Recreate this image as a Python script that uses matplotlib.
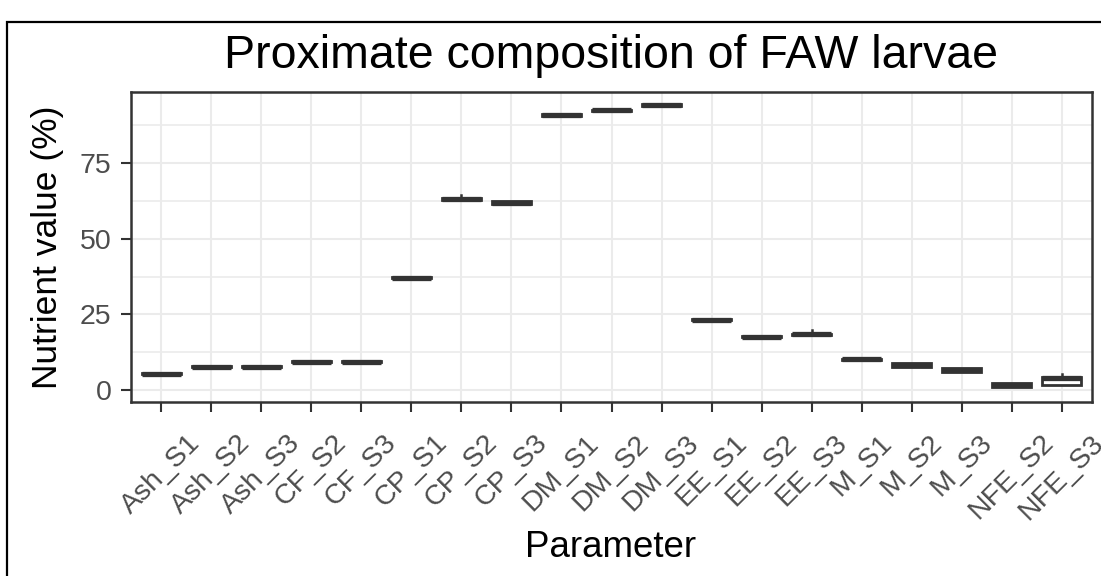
import matplotlib
matplotlib.use("Agg")
from matplotlib import pyplot as plt
from matplotlib.patches import Rectangle

plt.rcParams['font.family'] = ['Liberation Sans', 'DejaVu Sans']

parametry = ["Ash_S1", "Ash_S2", "Ash_S3", "CF_S2", "CF_S3", "CP_S1", "CP_S2", "CP_S3",
             "DM_S1", "DM_S2", "DM_S3", "EE_S1", "EE_S2", "EE_S3", "M_S1", "M_S2",
             "M_S3", "NFE_S2", "NFE_S3"]

# five-number summaries per parameter (%)
whislo = [5.2, 7.6, 7.6, 9.2, 9.2, 36.9, 62.9, 61.3, 90.6, 92.1, 93.9, 23.1, 17.4, 18.2, 10.0, 7.7, 6.1, 1.2, 1.8]
q1 = [5.2, 7.6, 7.6, 9.2, 9.2, 36.9, 62.9, 61.3, 90.6, 92.1, 93.9, 23.1, 17.4, 18.2, 10.0, 7.7, 6.1, 1.2, 1.8]
mediana = [5.4, 7.8, 7.8, 9.4, 9.4, 37.1, 63.1, 61.8, 90.8, 92.3, 94.1, 23.3, 17.6, 18.4, 10.2, 8.3, 6.7, 1.8, 4.0]
q3 = [5.6, 8.0, 8.0, 9.6, 9.6, 37.3, 63.3, 62.5, 91.0, 92.5, 94.3, 23.5, 17.8, 18.6, 10.4, 8.9, 7.3, 2.4, 4.2]
whishi = [5.6, 8.0, 8.0, 9.6, 9.6, 37.3, 64.3, 62.5, 91.0, 92.5, 94.3, 23.5, 17.8, 20.0, 10.4, 8.9, 7.3, 2.4, 5.3]

osie_y = [0, 25, 50, 75]
osie_y_minor = [12.5, 37.5, 62.5, 87.5]

W, H = 1101, 576


def draw_graph():
    fig = plt.figure(figsize=(W / 100, H / 100), dpi=100)
    ax = fig.add_axes([131 / W, 1 - 402 / H, (1092 - 131) / W, (402 - 92) / H])

    stats = []
    for i, nazwa in enumerate(parametry):
        stats.append({"label": nazwa, "whislo": whislo[i], "q1": q1[i], "med": mediana[i],
                      "q3": q3[i], "whishi": whishi[i], "fliers": []})

    ciemny = "#333333"
    ax.bxp(stats, positions=range(len(parametry)), widths=0.78, patch_artist=True,
           showcaps=False,
           boxprops=dict(facecolor="white", edgecolor=ciemny, linewidth=2.0),
           medianprops=dict(color=ciemny, linewidth=3.8, solid_capstyle="butt"),
           whiskerprops=dict(color=ciemny, linewidth=1.8), zorder=3)

    ax.set_xlim(-0.6, len(parametry) - 0.4)
    ax.set_ylim(-3.9, 98.4)
    ax.set_yticks(osie_y)
    ax.set_yticks(osie_y_minor, minor=True)
    ax.set_xticks(range(len(parametry)))
    ax.set_xticklabels(parametry, rotation=45, ha="center", va="top")

    ax.grid(True, which="major", color="#EBEBEB", linewidth=1.5, zorder=0)
    ax.grid(True, which="minor", axis="y", color="#EBEBEB", linewidth=1.2, zorder=0)
    ax.set_axisbelow(True)
    for s in ax.spines.values():
        s.set_color(ciemny)
        s.set_linewidth(1.8)

    ax.tick_params(axis="both", which="major", colors=ciemny, length=7, width=1.5,
                   labelcolor="#4D4D4D", labelsize=20.5)
    ax.tick_params(axis="x", pad=13)
    ax.tick_params(axis="y", pad=7)
    ax.tick_params(which="minor", length=0)

    fig.text(611 / W, 1 - 68 / H, "Proximate composition of FAW larvae", ha="center",
             va="baseline", fontsize=33.5, color="black")
    fig.text(611 / W, 1 - 557 / H, "Parameter", ha="center", va="baseline",
             fontsize=26.5, color="black")
    fig.text(48 / W, 1 - 247 / H, "Nutrient value (%)", ha="center", va="center",
             rotation=90, fontsize=25.5, color="black")

    ramka = Rectangle((7 / W, -0.1), 1.2, 1.1 - 22 / H, transform=fig.transFigure,
                      fill=False, edgecolor="black", linewidth=1.6, clip_on=False)
    fig.patches.append(ramka)

    fig.savefig("out.png", dpi=100)


if __name__ == "__main__":
    draw_graph()
